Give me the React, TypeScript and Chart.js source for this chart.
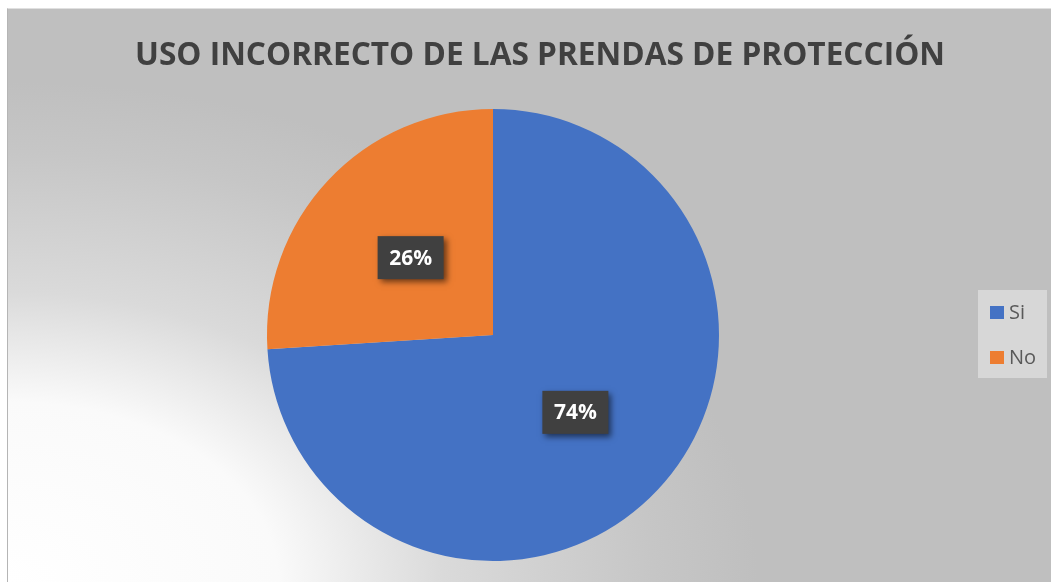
import React, { useEffect, useRef } from "react";
import { Chart, registerables } from "chart.js";

Chart.register(...registerables);

const titleText = "USO INCORRECTO DE LAS PRENDAS DE PROTECCIÓN";
const categories = ["Si", "No"];
const values = [74, 26];
const labelsPct = ["74%", "26%"];
const colors = ["#4472C4", "#ED7D31"];

export default function App() {
  const ref = useRef<HTMLCanvasElement | null>(null);

  useEffect(() => {
    document.body.style.margin = "0";
    document.body.style.overflow = "hidden";
    const canvas = ref.current!;

    const bgPlugin = {
      id: "bg",
      beforeDraw(chart: any) {
        const { ctx, width, height } = chart;
        ctx.save();
        ctx.fillStyle = "#bfbfbf";
        ctx.fillRect(0, 0, width, height);
        ctx.translate(0, height);
        ctx.scale(1.5, 1);
        const g = ctx.createRadialGradient(0, 0, 0, 0, 0, 500);
        g.addColorStop(0, "#ffffff");
        g.addColorStop(0.36, "#fafafa");
        g.addColorStop(0.58, "#dadada");
        g.addColorStop(0.86, "#c6c6c6");
        g.addColorStop(1, "#bfbfbf");
        ctx.fillStyle = g;
        ctx.fillRect(0, -height, width, height);
        ctx.restore();
      },
    };

    const decoPlugin = {
      id: "deco",
      afterDraw(chart: any) {
        const { ctx } = chart;
        // title
        ctx.save();
        ctx.font = "bold 32px 'Open Sans'";
        ctx.fillStyle = "#404040";
        ctx.textBaseline = "alphabetic";
        const w = ctx.measureText(titleText).width;
        const target = 810;
        const sx = target / w;
        ctx.translate(127, 56);
        ctx.scale(sx, 1);
        ctx.fillText(titleText, 0, 0);
        ctx.restore();

        // data labels
        const meta = chart.getDatasetMeta(0);
        meta.data.forEach((arc: any, i: number) => {
          const mid = (arc.startAngle + arc.endAngle) / 2;
          const rr = arc.outerRadius * 0.5;
          const x = arc.x + Math.cos(mid) * rr;
          const y = arc.y + Math.sin(mid) * rr;
          const bw = 66;
          const bh = 43;
          ctx.save();
          ctx.shadowColor = "rgba(0,0,0,0.55)";
          ctx.shadowBlur = 6;
          ctx.shadowOffsetX = 3;
          ctx.shadowOffsetY = 3;
          ctx.fillStyle = "#404040";
          ctx.fillRect(x - bw / 2, y - bh / 2, bw, bh);
          ctx.restore();
          ctx.save();
          ctx.font = "bold 21px 'Open Sans'";
          ctx.fillStyle = "#ffffff";
          ctx.textAlign = "center";
          ctx.textBaseline = "middle";
          ctx.fillText(labelsPct[i], x, y + 1);
          ctx.restore();
        });

        // legend
        ctx.save();
        ctx.fillStyle = "#d7d7d7";
        ctx.fillRect(970, 281, 69, 88);
        const ys = [303, 348];
        categories.forEach((c, i) => {
          ctx.fillStyle = colors[i];
          ctx.fillRect(982, ys[i] - 6, 14, 13);
          ctx.fillStyle = "#595959";
          ctx.font = "20px 'Open Sans'";
          ctx.textBaseline = "middle";
          ctx.textAlign = "left";
          ctx.fillText(c, 1001, ys[i] + 1);
        });
        ctx.restore();
      },
    };

    const chart = new Chart(canvas, {
      type: "pie",
      data: {
        labels: categories,
        datasets: [
          {
            data: values,
            backgroundColor: colors,
            borderWidth: 0,
            hoverOffset: 0,
          },
        ],
      },
      options: {
        animation: false,
        responsive: false,
        maintainAspectRatio: false,
        layout: { padding: { top: 100, bottom: 21, left: 0, right: 73 } },
        plugins: {
          legend: { display: false },
          title: { display: false },
          tooltip: { enabled: false },
        },
      },
      plugins: [bgPlugin, decoPlugin],
    });
    return () => chart.destroy();
  }, []);

  return (
    <div
      style={{
        position: "fixed",
        left: 7,
        top: 8,
        width: 1044,
        height: 574,
        background: "#ffffff",
        borderLeft: "1px solid #b5b5b5",
        borderTop: "1px solid #e0e0e0",
      }}
    >
      <canvas ref={ref} width={1043} height={573} style={{ display: "block" }} />
    </div>
  );
}
